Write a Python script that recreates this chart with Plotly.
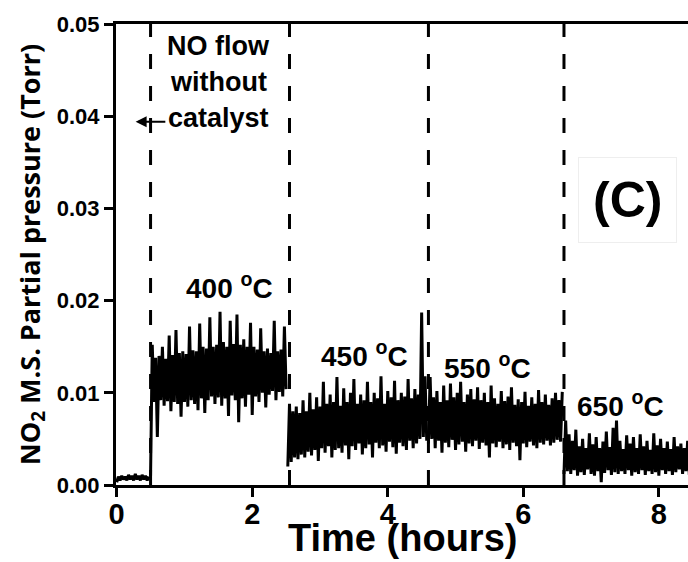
import plotly.graph_objects as go

# ---- data (NO2 partial pressure in Torr, sampled every 0.025 h) ----
sample_step_h = 0.025
segment_start_h = [0.0, 0.5, 2.525, 4.6, 6.6]

seg_no_catalyst = [
    0.0003, 0.0009, 0.0005, 0.0010, 0.0006, 0.0009, 0.0005, 0.0011, 0.0006, 0.0010,
    0.0005, 0.0012, 0.0006, 0.0010, 0.0005, 0.0011, 0.0006, 0.0010, 0.0005, 0.0009,
]
seg_400C = [
    0.0010, 0.0152, 0.0090, 0.0138, 0.0052, 0.0140, 0.0092, 0.0150, 0.0086, 0.0137,
    0.0091, 0.0162, 0.0080, 0.0141, 0.0090, 0.0168, 0.0088, 0.0143, 0.0074, 0.0145,
    0.0090, 0.0142, 0.0085, 0.0172, 0.0092, 0.0146, 0.0088, 0.0145, 0.0081, 0.0175,
    0.0094, 0.0150, 0.0078, 0.0148, 0.0092, 0.0182, 0.0096, 0.0150, 0.0088, 0.0152,
    0.0095, 0.0188, 0.0086, 0.0155, 0.0094, 0.0150, 0.0075, 0.0178, 0.0097, 0.0153,
    0.0092, 0.0185, 0.0068, 0.0152, 0.0094, 0.0158, 0.0085, 0.0150, 0.0098, 0.0176,
    0.0076, 0.0150, 0.0096, 0.0147, 0.0090, 0.0170, 0.0100, 0.0145, 0.0084, 0.0148,
    0.0098, 0.0143, 0.0102, 0.0178, 0.0092, 0.0145, 0.0101, 0.0147, 0.0096, 0.0172,
    0.0104,
]
seg_450C = [
    0.0020, 0.0088, 0.0025, 0.0080, 0.0030, 0.0085, 0.0028, 0.0078, 0.0033, 0.0092,
    0.0030, 0.0080, 0.0036, 0.0100, 0.0032, 0.0082, 0.0038, 0.0095, 0.0026, 0.0085,
    0.0040, 0.0112, 0.0035, 0.0088, 0.0042, 0.0098, 0.0030, 0.0090, 0.0038, 0.0117,
    0.0040, 0.0086, 0.0035, 0.0105, 0.0043, 0.0090, 0.0028, 0.0100, 0.0042, 0.0115,
    0.0038, 0.0088, 0.0045, 0.0098, 0.0033, 0.0092, 0.0040, 0.0112, 0.0044, 0.0090,
    0.0030, 0.0100, 0.0046, 0.0094, 0.0040, 0.0118, 0.0043, 0.0088, 0.0036, 0.0102,
    0.0047, 0.0095, 0.0041, 0.0113, 0.0034, 0.0092, 0.0046, 0.0100, 0.0042, 0.0096,
    0.0038, 0.0115, 0.0048, 0.0094, 0.0040, 0.0104, 0.0045, 0.0098, 0.0050, 0.0187,
    0.0052, 0.0118, 0.0048,
]
seg_550C = [
    0.0045, 0.0117, 0.0050, 0.0095, 0.0040, 0.0102, 0.0048, 0.0090, 0.0035, 0.0108,
    0.0046, 0.0092, 0.0041, 0.0110, 0.0049, 0.0095, 0.0038, 0.0100, 0.0044, 0.0112,
    0.0047, 0.0090, 0.0036, 0.0098, 0.0045, 0.0104, 0.0042, 0.0093, 0.0048, 0.0106,
    0.0039, 0.0092, 0.0046, 0.0100, 0.0043, 0.0090, 0.0030, 0.0108, 0.0045, 0.0094,
    0.0041, 0.0088, 0.0047, 0.0102, 0.0040, 0.0091, 0.0044, 0.0096, 0.0038, 0.0106,
    0.0046, 0.0087, 0.0042, 0.0093, 0.0027, 0.0090, 0.0045, 0.0101, 0.0041, 0.0086,
    0.0047, 0.0095, 0.0043, 0.0088, 0.0040, 0.0103, 0.0046, 0.0090, 0.0044, 0.0098,
    0.0048, 0.0087, 0.0043, 0.0094, 0.0046, 0.0100, 0.0049, 0.0092, 0.0047, 0.0101,
]
seg_650C = [
    0.0012, 0.0070, 0.0015, 0.0055, 0.0012, 0.0048, 0.0016, 0.0060, 0.0010, 0.0042,
    0.0014, 0.0050, 0.0011, 0.0040, 0.0017, 0.0056, 0.0012, 0.0044, 0.0010, 0.0052,
    0.0015, 0.0040, 0.0003, 0.0047, 0.0013, 0.0058, 0.0016, 0.0041, 0.0011, 0.0062,
    0.0014, 0.0070, 0.0012, 0.0048, 0.0015, 0.0039, 0.0012, 0.0054, 0.0016, 0.0045,
    0.0010, 0.0052, 0.0014, 0.0040, 0.0012, 0.0055, 0.0016, 0.0042, 0.0011, 0.0048,
    0.0015, 0.0038, 0.0012, 0.0056, 0.0014, 0.0043, 0.0010, 0.0050, 0.0016, 0.0040,
    0.0012, 0.0047, 0.0015, 0.0039, 0.0011, 0.0052, 0.0014, 0.0042, 0.0017, 0.0045,
    0.0012, 0.0040, 0.0015, 0.0048, 0.0011, 0.0041, 0.0014,
]
segments = [seg_no_catalyst, seg_400C, seg_450C, seg_550C, seg_650C]

boundary_times_h = [0.5, 2.55, 4.6, 6.6]

x_ticks = [0, 2, 4, 6, 8]
y_ticks = [0.00, 0.01, 0.02, 0.03, 0.04, 0.05]

temp_labels = ["400 <sup>o</sup>C", "450 <sup>o</sup>C", "550 <sup>o</sup>C", "650 <sup>o</sup>C"]
temp_label_x = [1.66, 3.65, 5.47, 7.43]
temp_label_y = [0.0216, 0.0142, 0.0129, 0.0088]

no_flow_lines = ["NO flow", "without", "catalyst"]
no_flow_x = [1.5, 1.5, 1.5]
no_flow_y = [0.0476, 0.0437, 0.0398]

FONT = "Liberation Sans, Arial, sans-serif"

fig = go.Figure()
for start, seg in zip(segment_start_h, segments):
    fig.add_trace(go.Scatter(
        y=seg, x0=start, dx=sample_step_h, mode="lines",
        line=dict(color="black", width=3), showlegend=False,
        hoverinfo="skip",
    ))

for xb in boundary_times_h:
    fig.add_shape(type="line", xref="x", yref="paper", x0=xb, x1=xb, y0=0, y1=1,
                  line=dict(color="black", width=3, dash="15px,17px"), layer="above")

annotations = []
for t, x, y in zip(temp_labels, temp_label_x, temp_label_y):
    annotations.append(dict(x=x, y=y, xref="x", yref="y", text=t, showarrow=False,
                            font=dict(family=FONT, size=28, color="black", weight="bold")))
for t, x, y in zip(no_flow_lines, no_flow_x, no_flow_y):
    annotations.append(dict(x=x, y=y, xref="x", yref="y", text=t, showarrow=False,
                            font=dict(family=FONT, size=27, color="black", weight="bold")))
# arrow pointing left from the "catalyst" label
annotations.append(dict(x=0.28, y=0.0394, ax=0.74, ay=0.0394, xref="x", yref="y",
                        axref="x", ayref="y", text="", showarrow=True, arrowhead=2,
                        arrowsize=1, arrowwidth=2.2, arrowcolor="black"))
annotations.append(dict(x=7.54, y=0.0309, xref="x", yref="y", text="(C)", showarrow=False,
                        font=dict(family=FONT, size=50, color="black", weight="bold"),
                        bordercolor="#eeeeee", borderwidth=1, borderpad=14))
# x-axis title (placed so it sits just under the tick labels, as in the original)
annotations.append(dict(x=0.5, y=-0.115, xref="paper", yref="paper", text="Time (hours)",
                        showarrow=False, yanchor="middle",
                        font=dict(family=FONT, size=38, color="black", weight="bold")))

fig.update_layout(
    width=688, height=562,
    margin=dict(l=116, r=0, t=24, b=77),
    plot_bgcolor="white", paper_bgcolor="white",
    annotations=annotations,
    xaxis=dict(
        range=[-0.01, 8.43], tickvals=x_ticks, ticktext=[str(v) for v in x_ticks],
        showline=True, linecolor="black", linewidth=3, mirror=True,
        ticks="outside", ticklen=9, tickwidth=3, tickcolor="black",
        ticklabelstandoff=-8,
        showgrid=False, zeroline=False,
        tickfont=dict(family=FONT, size=29, color="black", weight="bold"),
    ),
    yaxis=dict(
        range=[0, 0.05], tickvals=y_ticks, ticktext=[f"{v:.2f}" for v in y_ticks],
        showline=True, linecolor="black", linewidth=3, mirror=False,
        ticks="outside", ticklen=9, tickwidth=3, tickcolor="black",
        showgrid=False, zeroline=False,
        tickfont=dict(family=FONT, size=22, color="black", weight="bold"),
        title=dict(text="NO<sub>2</sub> M.S. Partial pressure (Torr)", standoff=9,
                   font=dict(family="Open Sans, sans-serif", size=27, color="black", weight="bold")),
    ),
)

fig.write_html("out.html")
